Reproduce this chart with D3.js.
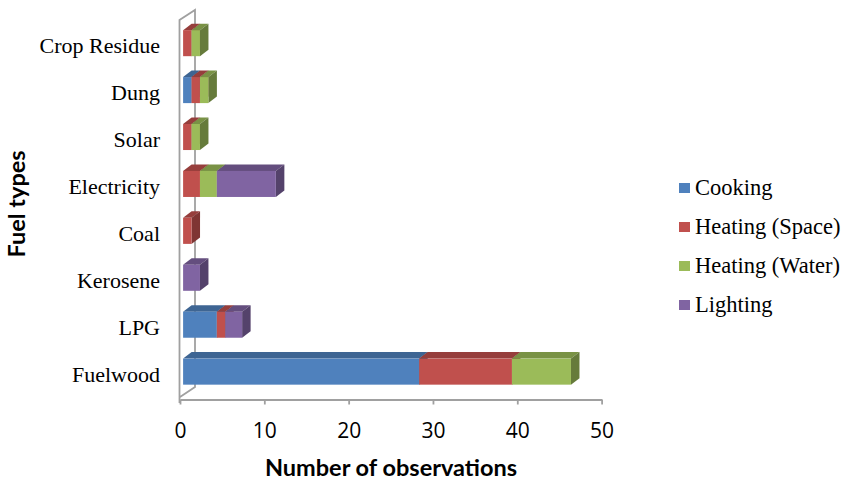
<!DOCTYPE html>
<html>
<head>
<meta charset="utf-8">
<script src="https://cdn.jsdelivr.net/npm/d3@7"></script>
<style>
  html, body { margin: 0; padding: 0; background: #fff; }
  svg { display: block; }
</style>
</head>
<body>
<svg id="chart" width="844" height="481"></svg>
<script>
// ---- data ----
const categories = ["Fuelwood", "LPG", "Kerosene", "Coal", "Electricity", "Solar", "Dung", "Crop Residue"];
const seriesNames = ["Cooking", "Heating (Space)", "Heating (Water)", "Lighting"];
const cooking      = [28, 4, 0, 0, 0, 0, 1, 0];
const heatingSpace = [11, 1, 0, 1, 2, 1, 1, 1];
const heatingWater = [7, 0, 0, 0, 2, 1, 1, 1];
const lighting     = [0, 2, 2, 0, 7, 0, 0, 0];
const xTicks = [0, 10, 20, 30, 40, 50];
const seriesColors = ["#4F81BD", "#C0504D", "#9BBB59", "#8064A2"];

const seriesValues = [cooking, heatingSpace, heatingWater, lighting];
const rows = categories.map((c, i) => {
  const r = { category: c };
  seriesNames.forEach((s, j) => r[s] = seriesValues[j][i]);
  return r;
});
const stacked = d3.stack().keys(seriesNames)(rows);

// ---- layout ----
const svg = d3.select("#chart");
const x = d3.scaleLinear().domain([0, 50]).range([180, 601.6]);
const y = d3.scaleBand().domain(categories).range([397.9, 22.5])
  .paddingInner(0.445).paddingOuter(0.2225);

const axisColor = "#a0a0a0";
const wallDX = 15.5, wallDY = -10;
const barOX = 3.1, barOY = -2.8;   // bar front face offset into depth
const barDX = 8.5, barDY = -6.5;   // bar depth

// walls / axes frame
const frame = svg.append("g").attr("fill", "none").attr("stroke", axisColor).attr("stroke-width", 1.8);
const x0 = x(0) - 0.5;
frame.append("path").attr("d",
  `M${x0},403 L${x0},20 L${x0 + wallDX},${20 + wallDY} L${x0 + wallDX},387 L${x0 + 0.5},397`);

// x axis
const xAxis = svg.append("g").attr("transform", "translate(0,399.5)")
  .call(d3.axisBottom(x).tickValues(xTicks).tickSize(5).tickSizeOuter(0));
xAxis.select(".domain").attr("stroke", axisColor).attr("stroke-width", 1.8);
xAxis.selectAll(".tick line").attr("stroke", axisColor).attr("stroke-width", 1.8);
xAxis.selectAll(".tick text")
  .attr("y", 38).attr("dy", 0)
  .attr("fill", "#000")
  .style("font-family", "'Open Sans', sans-serif")
  .style("font-size", "21px");

// y axis labels (category axis, no line drawn here)
const yAxis = svg.append("g").attr("transform", "translate(160,0)")
  .call(d3.axisLeft(y).tickSize(0).tickPadding(0));
yAxis.select(".domain").remove();
yAxis.selectAll(".tick text")
  .attr("dy", "0.33em")
  .attr("fill", "#000")
  .style("font-family", "'Liberation Serif', 'Times New Roman', serif")
  .style("font-size", "22px");

// bars
function shade(c, k) {
  const r = d3.rgb(c);
  return d3.rgb(r.r * k, r.g * k, r.b * k).formatHex();
}
const bars = svg.append("g");
categories.forEach((cat, ci) => {
  const cy = y(cat) + barOY;
  const top = cy, bot = cy + y.bandwidth();
  stacked.forEach((layer, si) => {
    const d = layer[ci];
    if (d[1] - d[0] <= 0) return;
    const xa = x(d[0]) + barOX, xb = x(d[1]) + barOX;
    const col = seriesColors[si];
    const g = bars.append("g");
    g.append("path")
      .attr("d", `M${xa},${top} L${xb},${top} L${xb + barDX},${top + barDY} L${xa + barDX},${top + barDY} Z`)
      .attr("fill", shade(col, 0.78));
    g.append("path")
      .attr("d", `M${xb},${top} L${xb + barDX},${top + barDY} L${xb + barDX},${bot + barDY} L${xb},${bot} Z`)
      .attr("fill", shade(col, 0.66));
    g.append("rect")
      .attr("x", xa).attr("y", top)
      .attr("width", xb - xa).attr("height", bot - top)
      .attr("fill", col);
  });
});

// axis titles
svg.append("text")
  .attr("x", 391).attr("y", 476)
  .attr("text-anchor", "middle")
  .style("font-family", "Lato, 'Open Sans', sans-serif")
  .style("font-weight", "bold")
  .style("font-size", "23.5px")
  .text("Number of observations");

svg.append("text")
  .attr("transform", "translate(25,204) rotate(-90)")
  .attr("text-anchor", "middle")
  .style("font-family", "Lato, 'Open Sans', sans-serif")
  .style("font-weight", "bold")
  .style("font-size", "23.5px")
  .text("Fuel types");

// legend
const legend = svg.append("g");
seriesNames.forEach((s, i) => {
  const by = 195 + i * 39;
  legend.append("rect")
    .attr("x", 679).attr("y", by - 12)
    .attr("width", 11).attr("height", 10)
    .attr("fill", seriesColors[i]);
  legend.append("text")
    .attr("x", 695).attr("y", by)
    .style("font-family", "'Liberation Serif', 'Times New Roman', serif")
    .style("font-size", "22.5px")
    .attr("fill", "#000")
    .text(s);
});
</script>
</body>
</html>
